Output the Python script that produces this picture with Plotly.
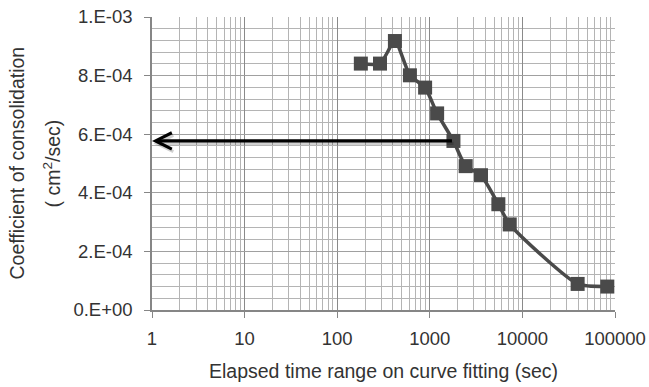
import numpy as np
import plotly.graph_objects as go

# Data
elapsed_time = [180, 290, 420, 610, 890, 1200, 1800, 2440, 3570, 5500, 7300, 39500, 82600]
cv_values = [8.41e-4, 8.41e-4, 9.18e-4, 8.01e-4, 7.59e-4, 6.71e-4, 5.77e-4,
             4.91e-4, 4.60e-4, 3.61e-4, 2.92e-4, 0.89e-4, 0.80e-4]

y_tick_vals = [0, 2e-4, 4e-4, 6e-4, 8e-4, 1e-3]
y_tick_text = ["0.E+00", "2.E-04", "4.E-04", "6.E-04", "8.E-04", "1.E-03"]
x_tick_vals = [1, 10, 100, 1000, 10000, 100000]
x_tick_text = ["1", "10", "100", "1000", "10000", "100000"]

arrow_start_x = 1800
arrow_end_x = 1
arrow_y = 5.77e-4

x_title = "Elapsed time range on curve fitting (sec)"
y_title_1 = "Coefficient of consolidation"
y_title_2 = "( cm<sup>2</sup>/sec)"

FONT = "Liberation Sans, Arial, sans-serif"
TXT = "#333333"
MARK = "#4a4a4a"
FS_TICK = 18.5
FS_TITLE = 19.5

L, R, T, B = 152, 34, 17, 77
W = 649 - L - R
H = 387 - T - B


def px_x(p):
    return (p - L) / W


def px_y(p):
    return (387 - B - p) / H


fig = go.Figure()
fig.add_trace(go.Scatter(
    x=elapsed_time, y=cv_values, mode="lines+markers",
    line=dict(color=MARK, width=3.5, shape="spline", smoothing=0.6),
    marker=dict(symbol="square", size=14, color=MARK),
    showlegend=False,
))

# shadow of arrow
fig.add_annotation(
    x=np.log10(arrow_end_x), y=arrow_y, ax=np.log10(arrow_start_x), ay=arrow_y,
    xref="x", yref="y", axref="x", ayref="y", text="",
    showarrow=True, arrowhead=5, arrowsize=1.0, arrowwidth=3.2,
    arrowcolor="rgba(0,0,0,0.18)", xshift=1.5, yshift=-2.5,
)
fig.add_annotation(
    x=np.log10(arrow_end_x), y=arrow_y, ax=np.log10(arrow_start_x), ay=arrow_y,
    xref="x", yref="y", axref="x", ayref="y", text="",
    showarrow=True, arrowhead=5, arrowsize=1.0, arrowwidth=3.2, arrowcolor="#000000",
)

fig.add_annotation(text=x_title, x=px_x(383), y=px_y(371), xref="paper", yref="paper",
                   xanchor="center", yanchor="middle",
                   showarrow=False, font=dict(family=FONT, size=FS_TITLE, color=TXT))
fig.add_annotation(text=y_title_1, x=px_x(16), y=0.5, xref="paper", yref="paper",
                   textangle=-90, showarrow=False, xanchor="center", yanchor="middle",
                   font=dict(family=FONT, size=FS_TITLE, color=TXT))
fig.add_annotation(text=y_title_2, x=px_x(51), y=0.5, xref="paper", yref="paper",
                   textangle=-90, showarrow=False, xanchor="center", yanchor="middle",
                   font=dict(family=FONT, size=FS_TITLE, color=TXT))

fig.update_layout(
    width=649, height=387,
    margin=dict(l=L, r=R, t=T, b=B, autoexpand=False),
    paper_bgcolor="white", plot_bgcolor="white",
    font=dict(family=FONT, size=FS_TICK, color=TXT),
)

fig.update_xaxes(
    type="log", range=[0, 5], automargin=False,
    tickvals=x_tick_vals, ticktext=x_tick_text,
    ticks="outside", ticklen=6, tickcolor="#868686", tickwidth=1,
    showline=True, linecolor="#868686", linewidth=1.5,
    showgrid=True, gridcolor="#8a8a8a", gridwidth=1,
    minor=dict(dtick="D1", showgrid=True, gridcolor="#b4b4b4", gridwidth=1.3, ticks=""),
    ticklabelstandoff=5,
    tickfont=dict(family=FONT, size=FS_TICK, color=TXT),
    zeroline=False,
)
fig.update_yaxes(
    range=[0, 1e-3], automargin=False,
    tickvals=y_tick_vals, ticktext=y_tick_text,
    ticks="outside", ticklen=6, tickcolor="#868686", tickwidth=1,
    showline=True, linecolor="#868686", linewidth=1.5,
    showgrid=True, gridcolor="#a0a0a0", gridwidth=1.3,
    minor=dict(dtick=4e-5, showgrid=True, gridcolor="#b4b4b4", gridwidth=1.3, ticks=""),
    ticklabelstandoff=8,
    tickfont=dict(family=FONT, size=FS_TICK, color=TXT),
    zeroline=False,
)

fig.write_html("out.html", config={"displayModeBar": False},
               post_script="document.body.style.margin='0px';document.body.style.overflow='hidden';")
